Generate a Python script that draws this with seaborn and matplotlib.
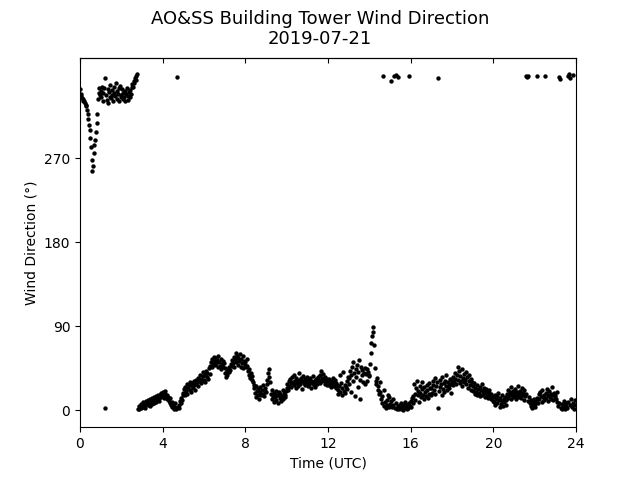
import matplotlib
matplotlib.use("Agg")
import matplotlib.pyplot as plt
import numpy as np
import pandas as pd
import seaborn as sns

# 2-minute samples, one list per block of hours (degrees)
dir_00_03 = [
    344, 339, 337, 335, 334, 331, 332, 329, 327, 326, 322, 318, 312, 306, 300,
    292, 282, 268, 256, 262, 276, 284, 290, 298, 308, 318, 334, 340, 345, 338,
    342, 336, 347, 331, 340, 345, 3, 356, 338, 333, 344, 329, 341, 336, 349,
    335, 343, 338, 332, 346, 340, 337, 351, 334, 342, 339, 345, 331, 348, 336,
    338, 344, 334, 340, 336, 342, 331, 339, 345, 337, 333, 341, 336, 343, 339,
    347, 350, 346, 353, 351, 356, 354, 358, 360, 2, 5, 1, 4, 7, 3,
]
dir_03_06 = [
    6, 4, 9, 5, 8, 3, 10, 7, 6, 11, 8, 5, 12, 9, 7,
    13, 10, 8, 14, 11, 9, 15, 12, 17, 13, 10, 16, 19, 14, 18,
    20, 16, 13, 18, 21, 15, 12, 17, 14, 10, 13, 8, 6, 9, 4,
    7, 2, 5, 8, 3, 1, 357, 4, 6, 3, 10, 8, 13, 11, 17,
    19, 23, 16, 25, 21, 28, 18, 24, 27, 22, 30, 20, 26, 29, 24,
    31, 27, 22, 33, 28, 30, 35, 26, 32, 38, 29, 34, 31, 37, 41,
]
dir_06_09 = [
    33, 38, 30, 42, 36, 40, 34, 45, 39, 48, 52, 47, 55, 50, 57,
    53, 49, 56, 51, 54, 46, 58, 52, 48, 55, 44, 50, 53, 47, 51,
    45, 40, 36, 42, 38, 44, 41, 47, 43, 50, 48, 54, 51, 57, 46,
    55, 62, 52, 58, 49, 56, 53, 60, 47, 55, 51, 58, 45, 53, 49,
    52, 46, 55, 48, 42, 38, 44, 35, 40, 33, 37, 30, 27, 24, 19,
    26, 14, 21, 17, 23, 12, 20, 25, 16, 22, 18, 27, 15, 21, 24,
]
dir_09_12 = [
    20, 28, 33, 40, 36, 44, 30, 18, 12, 22, 15, 9, 19, 14, 21,
    11, 17, 8, 16, 20, 13, 18, 10, 15, 22, 12, 19, 14, 17, 21,
    24, 28, 22, 31, 26, 34, 29, 25, 36, 30, 27, 38, 32, 24, 35,
    29, 33, 26, 40, 31, 28, 35, 23, 32, 37, 29, 34, 27, 31, 36,
    30, 26, 33, 28, 35, 24, 31, 29, 37, 27, 32, 25, 34, 30, 28,
    36, 31, 33, 38, 29, 42, 35, 31, 39, 33, 28, 36, 30, 34, 27,
]
dir_12_15 = [
    31, 27, 34, 29, 25, 32, 28, 35, 30, 26, 33, 24, 29, 27, 22,
    18, 26, 38, 20, 29, 16, 24, 41, 21, 27, 19, 25, 31, 23, 36,
    28, 35, 42, 20, 38, 46, 31, 52, 40, 15, 44, 36, 49, 25, 41,
    54, 33, 12, 47, 38, 43, 30, 40, 45, 28, 39, 44, 32, 41, 37,
    38, 50, 61, 72, 80, 89, 84, 70, 45, 32, 28, 35, 22, 26, 18,
    30, 20, 12, 8, 15, 358, 5, 22, 9, 3, 11, 6, 17, 14, 4,
]
dir_15_18 = [
    7, 353, 10, 4, 12, 6, 358, 3, 8, 359, 2, 5, 357, 1, 6,
    3, 8, 2, 5, 0, 7, 3, 9, 4, 1, 6, 3, 8, 358, 5,
    10, 4, 13, 8, 15, 28, 18, 11, 24, 32, 16, 21, 9, 26, 19,
    14, 23, 30, 17, 12, 25, 20, 15, 27, 22, 13, 29, 18, 24, 16,
    24, 19, 31, 27, 22, 35, 18, 26, 30, 3, 356, 21, 33, 25, 28,
    16, 36, 23, 29, 20, 32, 26, 38, 22, 30, 27, 24, 34, 19, 28,
]
dir_18_21 = [
    32, 27, 36, 30, 40, 34, 28, 38, 33, 46, 42, 29, 37, 31, 44,
    26, 35, 39, 30, 33, 41, 28, 36, 24, 32, 38, 27, 34, 22, 30,
    26, 21, 29, 18, 24, 20, 27, 16, 23, 19, 25, 15, 22, 28, 17,
    21, 19, 24, 14, 20, 23, 17, 13, 19, 22, 16, 12, 18, 15, 10,
    14, 9, 17, 6, 12, 15, 8, 19, 11, 4, 13, 7, 16, 10, 5,
    12, 9, 14, 6, 11, 18, 13, 22, 16, 20, 12, 25, 17, 14, 21,
]
dir_21_24 = [
    19, 15, 23, 12, 20, 17, 26, 14, 21, 18, 13, 24, 16, 19, 11,
    22, 15, 18, 358, 357, 358, 10, 14, 8, 5, 11, 3, 9, 6, 12,
    7, 4, 10, 358, 13, 8, 18, 12, 20, 15, 9, 22, 14, 17, 11,
    358, 19, 13, 23, 16, 10, 21, 14, 18, 12, 25, 16, 11, 19, 14,
    17, 12, 20, 9, 5, 8, 357, 355, 3, 7, 1, 6, 10, 4, 2,
    8, 5, 3, 358, 9, 360, 6, 356, 12, 4, 359, 8, 2, 11, 6,
]

sample_minutes = 2
x_ticks = [0, 4, 8, 12, 16, 20, 24]
y_ticks = [0, 90, 180, 270]

direction = (dir_00_03 + dir_03_06 + dir_06_09 + dir_09_12
             + dir_12_15 + dir_15_18 + dir_18_21 + dir_21_24)
df = pd.DataFrame({"wind_dir": direction})
df["hour"] = df.index * sample_minutes / 60.0

fig, ax = plt.subplots(figsize=(6.4, 4.8), dpi=100)
sns.scatterplot(data=df, x="hour", y="wind_dir", color="k", s=10,
                linewidth=0, ax=ax)

ax.set_xlim(0, 24)
ax.set_ylim(-18, 378)
ax.set_xticks(x_ticks)
ax.set_yticks(y_ticks)
ax.set_xlabel("Time (UTC)")
ax.set_ylabel("Wind Direction (°)")
fig.suptitle("AO&SS Building Tower Wind Direction\n2019-07-21", fontsize=13)

# inward ticks along the top edge, no labels
top = ax.secondary_xaxis("top")
top.set_xticks(x_ticks)
top.tick_params(direction="in", labeltop=False)

fig.savefig("out.png", dpi=100)
